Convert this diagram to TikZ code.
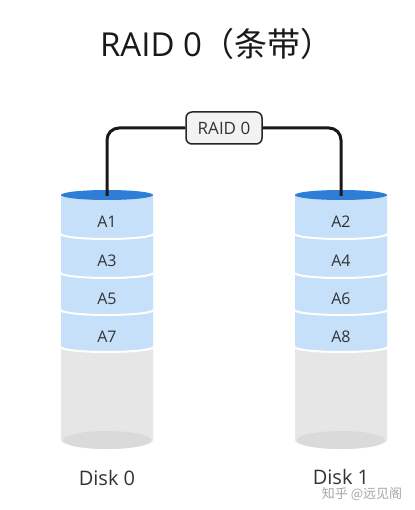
\documentclass[tikz,border=0pt]{standalone}
\usepackage{fontspec}
\setmainfont{Open Sans}
\newfontfamily\cjkfont{Noto Sans CJK SC}
\definecolor{disktop}{HTML}{2E7DD6}
\definecolor{diskblue}{HTML}{C6E0F9}
\definecolor{diskgray}{HTML}{E6E6E6}
\definecolor{diskbot}{HTML}{DADADA}
\definecolor{labeltext}{HTML}{333333}
\tikzset{
  conn/.style={draw=black!90, line width=3pt, rounded corners=12pt},
  raidbox/.style={draw=black!85, line width=1.5pt, fill=black!5, rounded corners=6pt,
    minimum width=76pt, minimum height=32pt, inner sep=0pt, font=\fontsize{17}{20}\selectfont, text=labeltext},
  blocklabel/.style={anchor=base, font=\fontsize{16}{19}\selectfont, text=labeltext},
  disklabel/.style={anchor=base, font=\fontsize{20}{24}\selectfont, text=labeltext},
  titletext/.style={anchor=base, font=\fontsize{33}{38}\selectfont, text=black!90},
  watermark/.style={anchor=base, font=\cjkfont\fontsize{13}{15}\selectfont, text=black!35}
}
\newcommand\mydisk[2]{%
  \fill[diskgray] (#1-46,-348) -- (#1-46,-440)
    arc[start angle=180,end angle=360,x radius=46pt,y radius=9pt] -- (#1+46,-348) -- cycle;
  \fill[diskbot] (#1,-440) ellipse[x radius=44pt,y radius=9pt];
  \fill[diskblue] (#1-46,-195) -- (#1-46,-347)
    arc[start angle=180,end angle=360,x radius=46pt,y radius=5pt] -- (#1+46,-195) -- cycle;
  \foreach \s in {234,273,310,347}
    \draw[white, line width=2pt] (#1-46,-\s) arc[start angle=180,end angle=360,x radius=46pt,y radius=5pt];
  \fill[disktop] (#1,-195) ellipse[x radius=46pt,y radius=5pt];
  \coordinate (#2) at (#1,-196);
}
\begin{document}
\begin{tikzpicture}[x=1pt,y=1pt]
\useasboundingbox (0,0) rectangle (414,-510);
\fill[white] (0,0) rectangle (414,-510);

\node[titletext] (title) at (217,-57) {RAID 0{\cjkfont（条带）}};

\mydisk{107}{d0top}
\mydisk{341}{d1top}

\node[blocklabel] (a1) at (107,-227) {A1};
\node[blocklabel] (a3) at (107,-266) {A3};
\node[blocklabel] (a5) at (107,-304) {A5};
\node[blocklabel] (a7) at (107,-342) {A7};
\node[blocklabel] (a2) at (341,-227) {A2};
\node[blocklabel] (a4) at (341,-266) {A4};
\node[blocklabel] (a6) at (341,-304) {A6};
\node[blocklabel] (a8) at (341,-342) {A8};

\node[raidbox] (raid) at (224,-128) {RAID 0};
\draw[conn] (d0top) |- (raid.west);
\draw[conn] (raid.east) -| (d1top);

\node[disklabel] (disk0) at (107,-485) {Disk 0};
\node[disklabel] (disk1) at (341,-484) {Disk 1};

\node[watermark] (wm) at (362,-498) {知乎 @远见阁};
\end{tikzpicture}
\end{document}
